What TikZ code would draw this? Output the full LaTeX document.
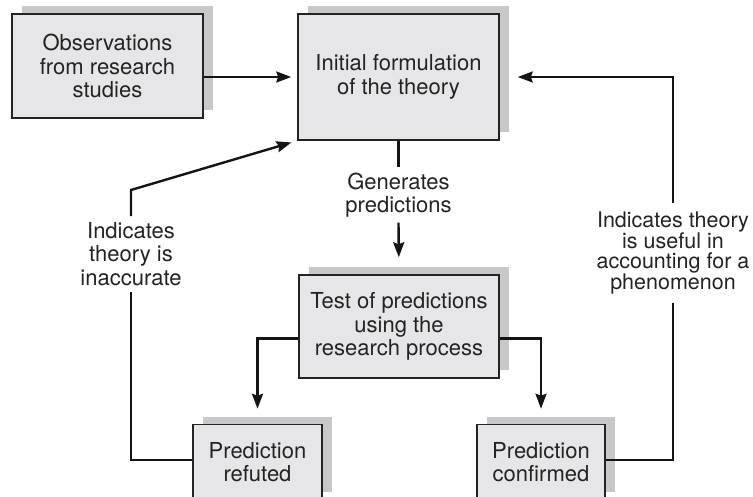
\documentclass[tikz,border=0pt]{standalone}
\usepackage{fontspec}
\setmainfont{TeX Gyre Heros}
\usetikzlibrary{positioning,arrows.meta,shadows,calc}
\definecolor{boxgray}{RGB}{230,230,232}
\definecolor{shadowgray}{RGB}{200,200,202}
\definecolor{inkgray}{RGB}{35,35,35}
\tikzset{
boxnode/.style={rectangle, draw=inkgray, line width=1.5pt, fill=boxgray, align=center,
                text=inkgray, font={\fontsize{22}{23.5}\selectfont},
                general shadow={shadow xshift=10pt, shadow yshift=8pt, fill=shadowgray}},
notenode/.style={align=center, inner sep=5pt, text=inkgray, font={\fontsize{22}{23.5}\selectfont}},
notenodeBis/.style={notenode, inner ysep=8pt, font={\fontsize{21.5}{20.8}\selectfont}},
link/.style={line width=2.4pt, draw=black!92},
>={Stealth[length=15pt,width=11pt,inset=2pt]}
}
\begin{document}
\begin{tikzpicture}[x=1pt, y=-1pt]
\useasboundingbox (0,0) rectangle (753,497);

%Process nodes
\node[boxnode, minimum width=191pt, minimum height=104pt] (observations) at(107.5,66) {Observations\\ from research\\ studies};
\node[boxnode, minimum width=201pt, minimum height=126pt] (initial) at(398.5,77) {Initial formulation\\ of the theory};
\node[boxnode, minimum width=200pt, minimum height=103pt] (test) at(399,326.5) {Test of predictions\\ using the\\ research process};
\node[boxnode, minimum width=129pt, minimum height=75pt] (refuted) at(257.5,462) {Prediction\\ refuted};
\node[boxnode, minimum width=128pt, minimum height=75pt] (confirmed) at(541,462) {Prediction\\ confirmed};

%Connector labels
\node[notenode] (generates) at(398.5,195) {Generates\\ predictions};
\node[notenode, inner ysep=6pt] (inaccurate) at(131,254) {Indicates\\ theory is\\ inaccurate};
\node[notenodeBis] (useful) at(673,253) {Indicates theory\\ is useful in\\ accounting for a\\ phenomenon};
\coordinate (kink) at(131,190);

\draw[link, ->, shorten >=6pt] (observations.east |- initial.west) -- (initial.west);
\draw[link] (initial.south) -- (generates.north);
\draw[link, ->, shorten >=17pt] (generates.south) -- (test.north);
\draw[link, ->, shorten >=15pt] ([yshift=-12pt]test.west) -| (refuted.north);
\draw[link, ->, shorten >=15pt] ([yshift=-12pt]test.east) -| (confirmed.north);
\draw[link] ([yshift=2pt]refuted.west) -| (inaccurate.south);
\draw[link, ->, shorten >=6pt] (inaccurate.north) -- (kink) -- (initial.south west);
\draw[link] ([yshift=2pt]confirmed.east) -| (useful.south);
\draw[link, ->, shorten >=18pt] (useful.north) |- (initial.east);
\end{tikzpicture}
\end{document}
